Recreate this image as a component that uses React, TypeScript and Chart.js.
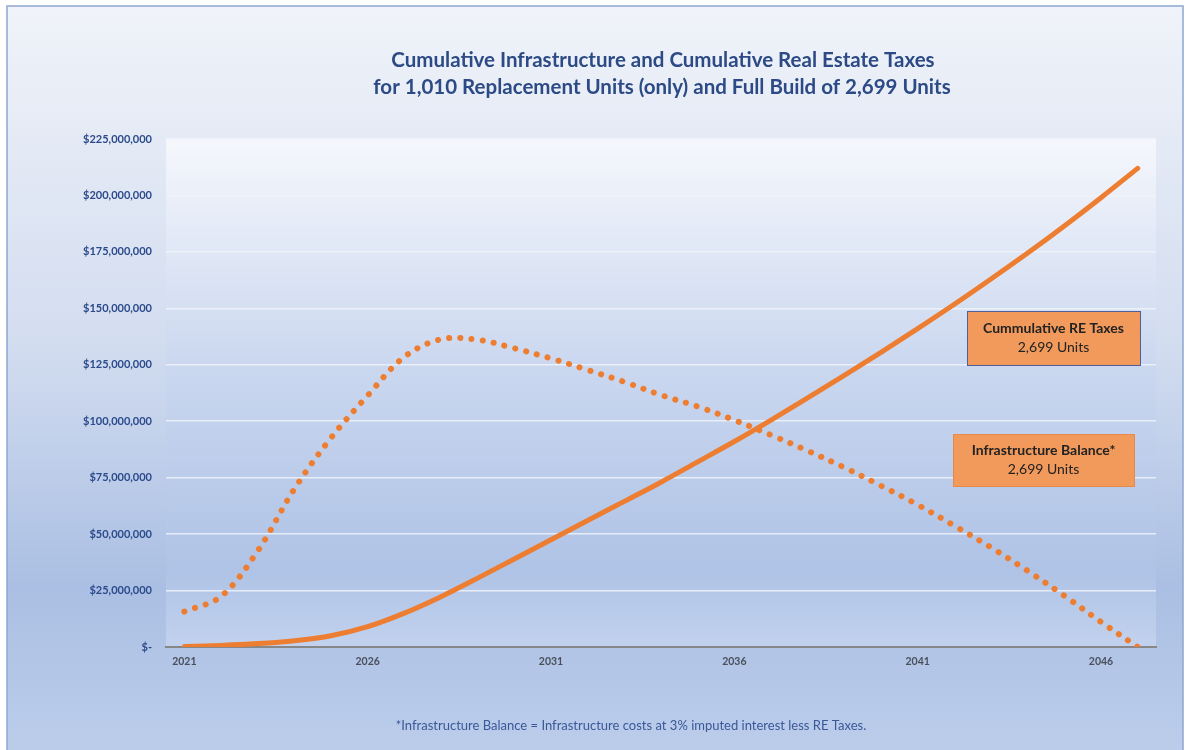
import React, { useEffect, useRef } from "react";
import { Chart, registerables } from "chart.js";

Chart.register(...registerables);

const years = [
  "2021", "2022", "2023", "2024", "2025", "2026", "2027", "2028", "2029",
  "2030", "2031", "2032", "2033", "2034", "2035", "2036", "2037", "2038",
  "2039", "2040", "2041", "2042", "2043", "2044", "2045", "2046", "2047",
];
const shownYearLabels = ["2021", "2026", "2031", "2036", "2041", "2046"];

// values in millions of dollars
const cumulativeReTaxes = [
  0.2, 0.7, 1.5, 2.8, 5, 9, 15, 22.3, 30.5, 39, 47.5, 56, 64.5, 73, 82, 91,
  100.5, 110.3, 120.3, 130.5, 141, 151.8, 163, 174.5, 186.5, 199, 212,
];
const infrastructureBalance = [
  15.7, 22.4, 42.5, 70, 92.6, 111.4, 128.5, 136.3, 136.1, 132.3, 127.8, 122.7,
  117.4, 111.6, 106.5, 100.5, 93.9, 86.9, 79.5, 71.4, 63, 53.7, 44.1, 33.7,
  22.7, 11.1, 0,
];

const yTickLabels = [
  "$-", "$25,000,000", "$50,000,000", "$75,000,000", "$100,000,000",
  "$125,000,000", "$150,000,000", "$175,000,000", "$200,000,000", "$225,000,000",
];

const titleLines = [
  "Cumulative Infrastructure and Cumulative Real Estate Taxes",
  "for 1,010 Replacement Units (only) and Full Build of 2,699 Units",
];
const footnote =
  "*Infrastructure Balance = Infrastructure costs at 3% imputed interest less RE Taxes.";
const boxReTaxes = ["Cummulative RE Taxes", "2,699 Units"];
const boxInfra = ["Infrastructure Balance*", "2,699 Units"];

const ORANGE = "#ed7d31";

const decorPlugin = {
  id: "decor",
  beforeDraw(chart: any) {
    const { ctx, width, height, chartArea } = chart;
    ctx.save();
    ctx.fillStyle = "#ffffff";
    ctx.fillRect(0, 0, width, height);
    const g = ctx.createLinearGradient(0, 6, 0, height);
    g.addColorStop(0, "#f0f3f9");
    g.addColorStop(0.45, "#d3ddf0");
    g.addColorStop(0.78, "#aabfe3");
    g.addColorStop(1, "#bccdeb");
    ctx.fillStyle = g;
    ctx.fillRect(7, 6, 1176, height);
    ctx.strokeStyle = "#8ea6cf";
    ctx.lineWidth = 1.5;
    ctx.strokeRect(7, 6, 1176, height + 10);
    const { left, top, right, bottom } = chartArea;
    const pg = ctx.createLinearGradient(0, top, 0, bottom);
    pg.addColorStop(0, "#f5f7fc");
    pg.addColorStop(0.45, "#cad7ef");
    pg.addColorStop(0.85, "#afc3e6");
    pg.addColorStop(1, "#c2d2ee");
    ctx.fillStyle = pg;
    ctx.fillRect(left, top, right - left, bottom - top);
    ctx.restore();
  },
  afterDraw(chart: any) {
    const { ctx } = chart;
    ctx.save();
    ctx.textAlign = "center";
    ctx.textBaseline = "middle";
    ctx.fillStyle = "#2c4a85";
    ctx.font = "bold 20.5px Lato";
    ctx.fillText(titleLines[0], 663, 60);
    ctx.fillText(titleLines[1], 662, 87);
    ctx.fillStyle = "#3a5898";
    ctx.font = "13px Lato";
    ctx.fillText(footnote, 631, 726);

    const drawBox = (
      x: number, y: number, w: number, h: number, stroke: string, lines: string[]
    ) => {
      ctx.fillStyle = "#f19a5c";
      ctx.fillRect(x, y, w, h);
      ctx.strokeStyle = stroke;
      ctx.lineWidth = 1;
      ctx.strokeRect(x + 0.5, y + 0.5, w, h);
      ctx.fillStyle = "#222222";
      ctx.font = "bold 14px Lato";
      ctx.fillText(lines[0], x + w / 2, y + h / 2 - 10);
      ctx.font = "14px Lato";
      ctx.fillText(lines[1], x + w / 2, y + h / 2 + 9);
    };
    drawBox(967, 311, 173, 54, "#4e5f9a", boxReTaxes);
    drawBox(953, 434, 181, 52, "#e8884a", boxInfra);
    ctx.restore();
  },
};

export default function App() {
  const canvasRef = useRef<HTMLCanvasElement | null>(null);

  useEffect(() => {
    if (!canvasRef.current) return;
    const chart = new Chart(canvasRef.current, {
      type: "line",
      data: {
        labels: years,
        datasets: [
          {
            label: "Cumulative RE Taxes",
            data: cumulativeReTaxes.map((v) => v * 1e6),
            borderColor: ORANGE,
            borderWidth: 5,
            borderCapStyle: "round",
            pointRadius: 0,
            cubicInterpolationMode: "monotone",
            fill: false,
          },
          {
            label: "Infrastructure Balance",
            data: infrastructureBalance.map((v) => v * 1e6),
            borderColor: ORANGE,
            borderWidth: 6,
            borderCapStyle: "round",
            borderDash: [0.1, 11.1],
            pointRadius: 0,
            tension: 0.35,
            fill: false,
          },
        ],
      },
      options: {
        animation: false,
        responsive: false,
        devicePixelRatio: 1,
        layout: { padding: { top: 139, right: 32, bottom: 73, left: 0 } },
        plugins: {
          legend: { display: false },
          title: { display: false },
          tooltip: { enabled: false },
        },
        scales: {
          x: {
            type: "category",
            offset: true,
            grid: { display: false, drawTicks: false },
            border: { display: true, color: "#878787", width: 2 },
            ticks: {
              autoSkip: false,
              maxRotation: 0,
              padding: 8,
              color: "#4a4f5c",
              font: { family: "Lato", size: 10.5, weight: "bold" },
              callback: (_v: any, i: number) =>
                shownYearLabels.includes(years[i]) ? years[i] : "",
            },
            afterFit: (s: any) => {
              s.height = 30;
            },
          },
          y: {
            min: 0,
            max: 225e6,
            ticks: {
              stepSize: 25e6,
              padding: 14,
              color: "#2b4a8b",
              font: { family: "Lato", size: 11, weight: "bold" },
              callback: (_v: any, i: number) => yTickLabels[i],
            },
            grid: {
              color: "rgba(240,243,250,0.85)",
              lineWidth: 1.5,
              drawTicks: false,
            },
            border: { display: false },
            afterFit: (s: any) => {
              s.width = 166;
            },
          },
        },
      },
      plugins: [decorPlugin],
    } as any);
    return () => chart.destroy();
  }, []);

  return (
    <div style={{ position: "fixed", left: 0, top: 0, width: 1188, height: 750 }}>
      <canvas ref={canvasRef} width={1188} height={750} style={{ width: 1188, height: 750 }} />
    </div>
  );
}
